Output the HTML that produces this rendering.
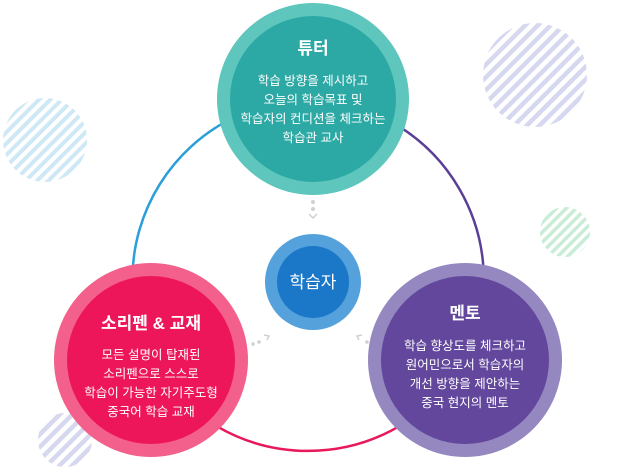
<!DOCTYPE html>
<html><head><meta charset="utf-8"><style>
html,body{margin:0;padding:0;background:#fff;}
svg{display:block;font-family:"Liberation Sans","Noto Sans CJK KR",sans-serif;}
</style></head><body>
<svg width="618" height="467" viewBox="0 0 618 467" xmlns="http://www.w3.org/2000/svg">
<defs>
<pattern id="pb" width="8" height="8" patternUnits="userSpaceOnUse" patternTransform="rotate(45)"><rect width="4" height="8" fill="#cfe8f6"/></pattern>
<pattern id="pl" width="9" height="9" patternUnits="userSpaceOnUse" patternTransform="rotate(45)"><rect width="4.5" height="9" fill="#d6d8ef"/></pattern>
<pattern id="pg" width="7" height="7" patternUnits="userSpaceOnUse" patternTransform="rotate(45)"><rect width="3.5" height="7" fill="#c8ecd6"/></pattern>
</defs>
<circle cx="45" cy="140" r="42" fill="url(#pb)"/>
<circle cx="535" cy="75" r="52" fill="url(#pl)"/>
<circle cx="565" cy="232" r="25" fill="url(#pg)"/>
<circle cx="65" cy="440" r="27" fill="url(#pl)"/>
<!-- orbit arcs -->
<path d="M 313 99 A 181 181 0 0 0 151 360" fill="none" stroke="#2a9fd8" stroke-width="2.5"/>
<path d="M 313 99 A 181 181 0 0 1 465 360" fill="none" stroke="#5b3f96" stroke-width="2.5"/>
<path d="M 151 360 A 181 181 0 0 0 465 360" fill="none" stroke="#e8185a" stroke-width="2.5"/>
<!-- dots -->
<g fill="#d0d0d0">
<circle cx="313" cy="202" r="2"/><circle cx="313" cy="209" r="2"/>
<circle cx="253" cy="344" r="1.8"/><circle cx="259" cy="342" r="1.8"/>
<circle cx="373" cy="344" r="1.8"/><circle cx="367" cy="342" r="1.8"/>
</g>
<g fill="none" stroke="#d0d0d0" stroke-width="1.5">
<path d="M309 214 l4 4 l4 -4"/>
<path d="M264 335 l5 1 l-2 4"/>
<path d="M362 335 l-5 1 l2 4"/>
</g>
<!-- top -->
<circle cx="313" cy="99" r="96" fill="#5ec6bd"/>
<circle cx="313" cy="99" r="83" fill="#2da9a5"/>
<g fill="#fff" text-anchor="middle">
<text x="313" y="54" font-size="17" font-weight="bold">튜터</text>
<text x="313" y="85" font-size="12.5">학습 방향을 제시하고</text>
<text x="313" y="104" font-size="12.5">오늘의 학습목표 및</text>
<text x="313" y="123" font-size="12.5">학습자의 컨디션을 체크하는</text>
<text x="313" y="142" font-size="12.5">학습관 교사</text>
</g>
<!-- center -->
<circle cx="313" cy="282" r="48" fill="#54a1dc"/>
<circle cx="313" cy="282" r="36" fill="#1b78c8"/>
<text x="313" y="288" font-size="17" fill="#fff" text-anchor="middle">학습자</text>
<!-- left -->
<circle cx="151" cy="360" r="97" fill="#f3608b"/>
<circle cx="151" cy="360" r="84" fill="#ee165a"/>
<g fill="#fff" text-anchor="middle">
<text x="151" y="329" font-size="17" font-weight="bold">소리펜 &amp; 교재</text>
<text x="151" y="359" font-size="12.5">모든 설명이 탑재된</text>
<text x="151" y="378" font-size="12.5">소리펜으로 스스로</text>
<text x="151" y="397" font-size="12.5">학습이 가능한 자기주도형</text>
<text x="151" y="416" font-size="12.5">중국어 학습 교재</text>
</g>
<!-- right -->
<circle cx="465" cy="360" r="97" fill="#9588c0"/>
<circle cx="465" cy="360" r="84" fill="#62479c"/>
<g fill="#fff" text-anchor="middle">
<text x="465" y="319" font-size="17" font-weight="bold">멘토</text>
<text x="465" y="350" font-size="12.5">학습 향상도를 체크하고</text>
<text x="465" y="369" font-size="12.5">원어민으로서 학습자의</text>
<text x="465" y="388" font-size="12.5">개선 방향을 제안하는</text>
<text x="465" y="407" font-size="12.5">중국 현지의 멘토</text>
</g>
</svg>
</body></html>
